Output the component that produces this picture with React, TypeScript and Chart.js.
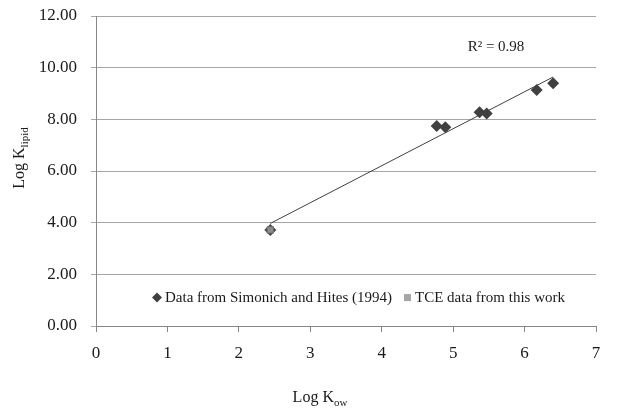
import React, { useEffect, useRef } from "react";
import { Chart, registerables } from "chart.js";

Chart.register(...registerables);

// Data
const simonichX = [4.77, 4.89, 5.37, 5.47, 6.17, 6.40];
const simonichY = [7.74, 7.69, 8.27, 8.23, 9.14, 9.40];
const tceX = [2.44];
const tceY = [3.72];
const trendX = [2.44, 6.40];
const trendY = [3.97, 9.64];
const xTicks = [0, 1, 2, 3, 4, 5, 6, 7];
const yTicks = [0, 2, 4, 6, 8, 10, 12];
const legendLabels = ["Data from Simonich and Hites (1994)", "TCE data from this work"];
const rSquaredText = "R\u00B2 = 0.98";

const FONT = "'Liberation Serif', 'Times New Roman', serif";
const TEXT = "#1a1a1a";

function drawSub(
  ctx: CanvasRenderingContext2D,
  cx: number,
  cy: number,
  main: string,
  sub: string,
  size: number,
  subSize: number
) {
  ctx.font = `${size}px ${FONT}`;
  const w1 = ctx.measureText(main).width;
  ctx.font = `${subSize}px ${FONT}`;
  const w2 = ctx.measureText(sub).width;
  const start = cx - (w1 + w2) / 2;
  ctx.textBaseline = "alphabetic";
  ctx.textAlign = "left";
  ctx.font = `${size}px ${FONT}`;
  ctx.fillText(main, start, cy + size * 0.33);
  ctx.font = `${subSize}px ${FONT}`;
  ctx.fillText(sub, start + w1, cy + size * 0.33 + subSize * 0.35);
}

const overlayPlugin = {
  id: "overlay",
  afterDraw(chart: any) {
    const ctx: CanvasRenderingContext2D = chart.ctx;
    const ys = chart.scales.y;
    ctx.save();
    ctx.fillStyle = TEXT;

    // R squared
    ctx.font = `15px ${FONT}`;
    ctx.textAlign = "center";
    ctx.textBaseline = "middle";
    ctx.fillText(rSquaredText, 496, 47);

    // legend
    const ly = ys.getPixelForValue(1.1);
    ctx.fillStyle = "#404040";
    ctx.beginPath();
    const dx = 157;
    ctx.moveTo(dx, ly - 5);
    ctx.lineTo(dx + 5, ly);
    ctx.lineTo(dx, ly + 5);
    ctx.lineTo(dx - 5, ly);
    ctx.closePath();
    ctx.fill();
    ctx.fillStyle = "#a6a6a6";
    ctx.fillRect(404, ly - 3.5, 7, 7);
    ctx.fillStyle = TEXT;
    ctx.font = `15px ${FONT}`;
    ctx.textAlign = "left";
    ctx.textBaseline = "middle";
    ctx.fillText(legendLabels[0], 165, ly);
    ctx.fillText(legendLabels[1], 415, ly);

    // axis titles
    ctx.fillStyle = TEXT;
    drawSub(ctx, 320, 397, "Log K", "ow", 16, 11);
    ctx.save();
    ctx.translate(19, 158);
    ctx.rotate(-Math.PI / 2);
    drawSub(ctx, 0, 0, "Log K", "lipid", 16, 11);
    ctx.restore();

    ctx.restore();
  },
};

export default function App() {
  const ref = useRef<HTMLCanvasElement | null>(null);
  useEffect(() => {
    if (!ref.current) return;
    const chart = new Chart(ref.current, {
      type: "scatter",
      data: {
        datasets: [
          {
            label: "trend",
            type: "line",
            data: trendX.map((x, i) => ({ x, y: trendY[i] })),
            borderColor: "#404040",
            borderWidth: 1,
            pointRadius: 0,
            showLine: true,
            order: 3,
          } as any,
          {
            label: "tce-outline",
            data: tceX.map((x, i) => ({ x, y: tceY[i] })),
            pointStyle: "rectRot",
            pointRadius: 6,
            backgroundColor: "#404040",
            borderColor: "#404040",
            borderWidth: 0,
            order: 2,
          },
          {
            label: legendLabels[1],
            data: tceX.map((x, i) => ({ x, y: tceY[i] })),
            pointStyle: "rect",
            pointRadius: 4.5,
            backgroundColor: "#8c8c8c",
            borderColor: "#6a6a6a",
            borderWidth: 1,
            order: 1,
          },
          {
            label: legendLabels[0],
            data: simonichX.map((x, i) => ({ x, y: simonichY[i] })),
            pointStyle: "rectRot",
            pointRadius: 6,
            backgroundColor: "#404040",
            borderColor: "#404040",
            borderWidth: 0,
            order: 0,
          },
        ],
      },
      options: {
        responsive: false,
        animation: false,
        layout: { padding: { top: 16, right: 28, left: 0, bottom: 0 } },
        plugins: {
          legend: { display: false },
          tooltip: { enabled: false },
        },
        scales: {
          x: {
            type: "linear",
            min: 0,
            max: 7,
            afterBuildTicks: (s: any) => {
              s.ticks = xTicks.map((v) => ({ value: v }));
            },
            afterFit: (s: any) => {
              s.height = 82;
              s.paddingLeft = 0;
              s.paddingRight = 0;
            },
            grid: {
              drawOnChartArea: false,
              drawTicks: true,
              tickLength: 6,
              color: "#868686",
            },
            border: { color: "#868686", width: 1 },
            ticks: {
              font: { family: FONT, size: 17 },
              color: TEXT,
              padding: 11,
              maxRotation: 0,
            },
          },
          y: {
            type: "linear",
            min: 0,
            max: 12,
            afterBuildTicks: (s: any) => {
              s.ticks = yTicks.map((v) => ({ value: v }));
            },
            afterFit: (s: any) => {
              s.width = 96;
              s.paddingTop = 0;
              s.paddingBottom = 0;
            },
            grid: {
              color: "#a6a6a6",
              drawTicks: true,
              tickLength: 5,
            },
            border: { color: "#868686", width: 1 },
            ticks: {
              font: { family: FONT, size: 17 },
              color: TEXT,
              padding: 14,
              callback: (v: any) => Number(v).toFixed(2),
            },
          },
        },
      },
      plugins: [overlayPlugin],
    } as any);
    if ((document as any).fonts && (document as any).fonts.ready) {
      (document as any).fonts.ready.then(() => chart.update());
    }
    return () => chart.destroy();
  }, []);
  return (
    <div style={{ position: "absolute", left: 0, top: 0, width: 624, height: 408, background: "#fff" }}>
      <canvas ref={ref} width={624} height={408} style={{ display: "block" }} />
    </div>
  );
}
